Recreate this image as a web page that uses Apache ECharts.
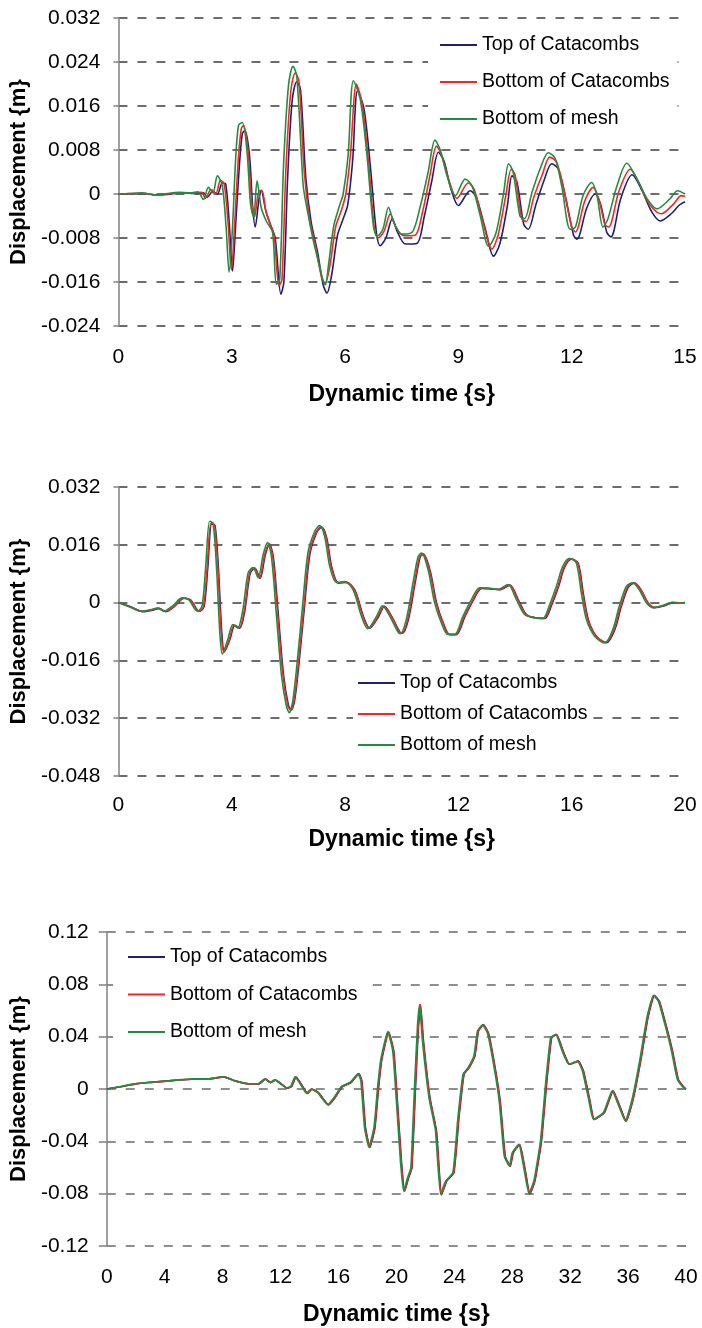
<!DOCTYPE html>
<html>
<head>
<meta charset="utf-8">
<script src="https://cdn.jsdelivr.net/npm/echarts@6/dist/echarts.min.js"></script>
<style>
html,body{margin:0;padding:0;background:#fff;}
#c{width:702px;height:1328px;}
</style>
</head>
<body>
<div id="c"></div>
<script>
const seriesNames = ['Top of Catacombs', 'Bottom of Catacombs', 'Bottom of mesh'];
const xTitle = 'Dynamic time {s}';
const yTitle = 'Displacement {m}';

// Chart 1 (0-15 s)
const c1Top = [[0,0],[0.3,0.0],[0.7,0.0001],[1.0,-0.0002],[1.4,0.0],[1.7,0.0002],[2.0,0.0001],[2.25,0.0002],[2.35,-0.0006],[2.5,0.0005],[2.62,0.0],[2.75,0.002],[2.84,0.0018],[2.93,-0.005],[3.02,-0.014],[3.1,-0.006],[3.2,0.005],[3.28,0.011],[3.35,0.0115],[3.47,0.007],[3.55,-0.002],[3.62,-0.006],[3.72,-0.001],[3.78,0.0007],[3.9,-0.003],[4.02,-0.0055],[4.15,-0.008],[4.3,-0.0182],[4.38,-0.016],[4.48,0.003],[4.6,0.017],[4.72,0.0204],[4.82,0.019],[4.96,0.003],[5.1,-0.005],[5.27,-0.0105],[5.42,-0.0165],[5.52,-0.018],[5.65,-0.0145],[5.8,-0.0075],[5.95,-0.0045],[6.07,-0.002],[6.2,0.006],[6.33,0.0188],[6.5,0.0155],[6.67,0.005],[6.83,-0.007],[6.93,-0.0094],[7.08,-0.008],[7.25,-0.0045],[7.38,-0.0068],[7.6,-0.0091],[7.9,-0.009],[8.1,-0.004],[8.3,0.0025],[8.47,0.0076],[8.62,0.006],[8.8,0.001],[9.0,-0.0021],[9.31,0.0006],[9.47,-0.0005],[9.7,-0.006],[9.93,-0.0113],[10.1,-0.009],[10.3,-0.002],[10.42,0.0033],[10.55,0.0022],[10.73,-0.0055],[10.85,-0.0064],[11.05,-0.002],[11.27,0.0025],[11.47,0.0055],[11.65,0.0045],[11.85,-0.001],[12.05,-0.0075],[12.14,-0.0082],[12.4,-0.0025],[12.62,0.0],[12.77,-0.002],[12.93,-0.007],[13.04,-0.0078],[13.3,-0.0008],[13.6,0.0035],[13.85,0.0008],[14.1,-0.003],[14.34,-0.0049],[14.65,-0.0035],[14.85,-0.002],[15.0,-0.0014]];
const c1Bot = [[0,0],[0.3,0.0001],[0.7,0.0001],[1.0,-0.0002],[1.4,0.0001],[1.7,0.0002],[2.0,0.0002],[2.2,0.0003],[2.3,-0.0008],[2.45,0.0008],[2.58,0.0001],[2.7,0.0025],[2.8,0.0018],[2.9,-0.005],[2.99,-0.0138],[3.08,-0.005],[3.17,0.006],[3.25,0.0118],[3.31,0.0125],[3.43,0.008],[3.52,-0.001],[3.6,-0.0042],[3.72,0.0005],[3.8,0.0006],[3.9,-0.003],[4.0,-0.0052],[4.12,-0.0075],[4.25,-0.0167],[4.33,-0.0155],[4.43,0.004],[4.56,0.0185],[4.68,0.022],[4.78,0.0205],[4.92,0.004],[5.06,-0.0045],[5.22,-0.0095],[5.38,-0.0152],[5.47,-0.0162],[5.6,-0.013],[5.75,-0.006],[5.9,-0.003],[6.02,0.0],[6.14,0.007],[6.3,0.020],[6.45,0.0165],[6.62,0.006],[6.78,-0.0065],[6.88,-0.008],[7.03,-0.0068],[7.2,-0.0036],[7.33,-0.0058],[7.55,-0.0076],[7.85,-0.0075],[8.06,-0.003],[8.25,0.0035],[8.42,0.0087],[8.56,0.007],[8.75,0.0025],[8.96,-0.0008],[9.26,0.002],[9.42,0.0008],[9.64,-0.0048],[9.89,-0.010],[10.05,-0.0075],[10.25,-0.0005],[10.4,0.0045],[10.5,0.0035],[10.68,-0.0045],[10.8,-0.005],[11.0,-0.0005],[11.22,0.0035],[11.42,0.0067],[11.6,0.0058],[11.8,0.0005],[12.0,-0.006],[12.1,-0.0069],[12.35,-0.0012],[12.57,0.0012],[12.72,-0.001],[12.88,-0.0055],[12.98,-0.006],[13.25,0.0005],[13.55,0.0045],[13.8,0.0018],[14.05,-0.0018],[14.37,-0.0036],[14.7,-0.0018],[14.9,-0.0003],[15.0,-0.0004]];
const c1Mesh = [[0,0],[0.3,0.0001],[0.6,0.0002],[1.0,-0.0002],[1.3,0.0001],[1.6,0.0003],[1.9,0.0002],[2.1,0.0004],[2.25,-0.001],[2.38,0.0012],[2.5,0.0002],[2.62,0.0033],[2.75,0.0015],[2.85,-0.006],[2.93,-0.0142],[3.02,-0.006],[3.1,0.006],[3.18,0.0125],[3.28,0.013],[3.4,0.008],[3.5,-0.002],[3.58,-0.0042],[3.67,0.0024],[3.78,-0.0025],[3.92,-0.005],[4.08,-0.007],[4.18,-0.0164],[4.27,-0.0155],[4.37,0.005],[4.5,0.0196],[4.62,0.0232],[4.72,0.0215],[4.86,0.005],[4.9,0.001],[5.03,-0.004],[5.17,-0.0088],[5.34,-0.0136],[5.43,-0.016],[5.48,-0.0165],[5.56,-0.013],[5.7,-0.0058],[5.85,-0.0022],[5.95,0.0],[6.08,0.007],[6.22,0.0206],[6.4,0.0173],[6.58,0.007],[6.75,-0.0058],[6.85,-0.0077],[7.0,-0.0064],[7.15,-0.0024],[7.28,-0.005],[7.5,-0.0073],[7.77,-0.007],[8.0,-0.002],[8.2,0.004],[8.38,0.0098],[8.52,0.008],[8.7,0.0033],[8.92,-0.0003],[9.18,0.0027],[9.36,0.0015],[9.58,-0.004],[9.8,-0.0095],[10.0,-0.007],[10.2,0.0003],[10.33,0.0055],[10.45,0.004],[10.63,-0.004],[10.75,-0.0045],[10.95,0.0003],[11.16,0.0045],[11.38,0.0075],[11.56,0.0065],[11.74,0.0013],[11.96,-0.0064],[12.1,-0.006],[12.3,-0.0003],[12.53,0.0021],[12.67,-0.0003],[12.83,-0.006],[12.96,-0.0045],[13.2,0.0015],[13.46,0.0056],[13.73,0.0027],[14.0,-0.0009],[14.26,-0.0027],[14.6,-0.0009],[14.8,0.0006],[15.0,0]];

// Chart 2 (0-20 s)
const c2Top = [[0,0],[0.47,-0.0013],[0.85,-0.0025],[1.2,-0.0021],[1.44,-0.0016],[1.67,-0.0025],[1.97,-0.0011],[2.32,0.0012],[2.55,0.0007],[2.85,-0.0024],[3.02,-0.0012],[3.15,0.0093],[3.29,0.0218],[3.41,0.0213],[3.53,0.0093],[3.65,-0.0086],[3.74,-0.0136],[3.93,-0.0103],[4.11,-0.0063],[4.28,-0.0071],[4.46,-0.0023],[4.65,0.0081],[4.82,0.0095],[5.0,0.0067],[5.18,0.0131],[5.33,0.0162],[5.47,0.0124],[5.65,-0.0041],[5.83,-0.0202],[6.0,-0.0284],[6.1,-0.0297],[6.23,-0.0265],[6.4,-0.0146],[6.58,0],[6.76,0.0135],[7.0,0.0194],[7.17,0.0209],[7.35,0.018],[7.53,0.0098],[7.77,0.0054],[8.05,0.0056],[8.35,0.0034],[8.65,-0.0039],[8.87,-0.0071],[9.18,-0.0039],[9.39,-0.001],[9.65,-0.0039],[9.93,-0.0081],[10.02,-0.0085],[10.23,-0.0048],[10.47,0.0053],[10.65,0.0126],[10.77,0.0134],[11.0,0.0089],[11.23,-0.0001],[11.47,-0.0057],[11.7,-0.0089],[11.94,-0.0088],[12.23,-0.0039],[12.53,0.0007],[12.82,0.0039],[13.12,0.0038],[13.47,0.0036],[13.82,0.0048],[14.12,0.0007],[14.41,-0.0034],[14.77,-0.0043],[15.05,-0.0044],[15.29,-0.0007],[15.53,0.0043],[15.75,0.0098],[15.99,0.012],[16.23,0.0109],[16.41,0.0025],[16.59,-0.0048],[16.88,-0.0094],[17.23,-0.0111],[17.52,-0.0075],[17.75,-0.0011],[18.0,0.0043],[18.22,0.0054],[18.45,0.0035],[18.7,-0.0001],[18.93,-0.0014],[19.28,-0.0009],[19.58,0],[19.87,-0.0002],[20,0]];
const c2Bot = [[0,0],[0.45,-0.0013],[0.83,-0.0024],[1.18,-0.002],[1.42,-0.0016],[1.65,-0.0024],[1.95,-0.0011],[2.3,0.0012],[2.53,0.0008],[2.83,-0.0024],[3.0,-0.0012],[3.13,0.0095],[3.27,0.022],[3.39,0.0215],[3.51,0.0095],[3.63,-0.0085],[3.72,-0.0138],[3.91,-0.0103],[4.09,-0.0062],[4.26,-0.007],[4.44,-0.0022],[4.63,0.0082],[4.8,0.0096],[4.98,0.0068],[5.16,0.0132],[5.31,0.0163],[5.45,0.0125],[5.63,-0.004],[5.81,-0.0203],[5.98,-0.0285],[6.08,-0.0298],[6.21,-0.0266],[6.38,-0.0147],[6.56,0],[6.74,0.0136],[6.98,0.0195],[7.15,0.021],[7.33,0.0181],[7.51,0.0099],[7.75,0.0055],[8.03,0.0057],[8.33,0.0035],[8.63,-0.0038],[8.85,-0.0071],[9.16,-0.0038],[9.37,-0.001],[9.63,-0.0038],[9.91,-0.0081],[10.0,-0.0085],[10.21,-0.0047],[10.45,0.0054],[10.63,0.0127],[10.75,0.0135],[10.98,0.009],[11.21,0],[11.45,-0.0056],[11.68,-0.0088],[11.92,-0.0087],[12.21,-0.0038],[12.51,0.0007],[12.8,0.004],[13.1,0.0039],[13.45,0.0036],[13.8,0.0049],[14.1,0.0008],[14.39,-0.0033],[14.75,-0.0042],[15.03,-0.0043],[15.27,-0.0006],[15.51,0.0044],[15.73,0.0099],[15.97,0.0121],[16.21,0.011],[16.39,0.0026],[16.57,-0.0047],[16.86,-0.0093],[17.21,-0.011],[17.5,-0.0074],[17.73,-0.001],[17.98,0.0044],[18.2,0.0055],[18.43,0.0036],[18.68,0],[18.91,-0.0013],[19.26,-0.0008],[19.56,0.0001],[19.85,-0.0001],[20,0]];
const c2Mesh = [[0,0],[0.4,-0.0012],[0.78,-0.0024],[1.13,-0.002],[1.37,-0.0015],[1.6,-0.0024],[1.9,-0.001],[2.25,0.0013],[2.48,0.0008],[2.78,-0.0024],[2.95,-0.001],[3.08,0.010],[3.22,0.0225],[3.34,0.022],[3.46,0.010],[3.58,-0.0084],[3.67,-0.0142],[3.86,-0.0102],[4.04,-0.0061],[4.21,-0.007],[4.39,-0.002],[4.58,0.0083],[4.75,0.0097],[4.93,0.0069],[5.11,0.0133],[5.26,0.0166],[5.4,0.0128],[5.58,-0.0038],[5.76,-0.0204],[5.93,-0.0287],[6.03,-0.0305],[6.16,-0.0269],[6.33,-0.0149],[6.51,0],[6.69,0.0138],[6.93,0.0197],[7.1,0.0213],[7.28,0.0183],[7.46,0.010],[7.7,0.0055],[7.98,0.0058],[8.28,0.0036],[8.58,-0.0038],[8.8,-0.0072],[9.11,-0.0038],[9.32,-0.0009],[9.58,-0.0038],[9.86,-0.008],[9.95,-0.0086],[10.16,-0.0047],[10.4,0.0055],[10.58,0.0128],[10.7,0.0137],[10.93,0.0091],[11.16,0],[11.4,-0.0056],[11.63,-0.0088],[11.87,-0.0088],[12.16,-0.0038],[12.46,0.0008],[12.75,0.0041],[13.05,0.004],[13.4,0.0037],[13.75,0.005],[14.05,0.0008],[14.34,-0.0033],[14.7,-0.0042],[14.98,-0.0044],[15.22,-0.0006],[15.46,0.0045],[15.68,0.010],[15.92,0.0122],[16.16,0.011],[16.34,0.0027],[16.52,-0.0047],[16.81,-0.0093],[17.16,-0.0112],[17.45,-0.0075],[17.68,-0.001],[17.93,0.0045],[18.15,0.0055],[18.38,0.0036],[18.63,0],[18.86,-0.0014],[19.21,-0.0008],[19.51,0],[19.82,-0.0002],[20,0]];

// Chart 3 (0-40 s)
const c3Top = [[0,0],[1.07,0.0019],[2.02,0.0039],[3.07,0.0051],[4.32,0.0062],[5.27,0.0071],[6.17,0.0077],[7.07,0.0077],[8.12,0.0093],[8.87,0.0062],[9.82,0.0039],[10.52,0.0039],[10.97,0.0077],[11.32,0.0049],[11.67,0.0069],[12.12,0.0034],[12.47,0.0007],[12.77,0.0019],[13.07,0.0092],[13.37,0.0049],[13.87,-0.0034],[14.17,-0.0001],[14.62,-0.0027],[14.97,-0.0078],[15.32,-0.0121],[15.77,-0.0065],[16.27,0.0017],[16.87,0.0049],[17.42,0.0116],[17.62,0.0059],[17.87,-0.0297],[18.17,-0.0446],[18.52,-0.0297],[18.77,0.0009],[19.0,0.0228],[19.47,0.0436],[19.82,0.0289],[20.07,-0.0093],[20.35,-0.0552],[20.57,-0.0783],[20.84,-0.068],[21.07,-0.0603],[21.32,0.0009],[21.52,0.0468],[21.67,0.0644],[21.87,0.0366],[22.32,-0.0067],[22.77,-0.0321],[23.12,-0.0809],[23.47,-0.0705],[23.97,-0.0641],[24.32,-0.022],[24.67,0.0111],[25.02,0.0162],[25.42,0.0251],[25.67,0.0443],[26.02,0.0491],[26.37,0.0422],[26.82,0.0162],[27.17,-0.0093],[27.52,-0.0514],[27.87,-0.059],[28.07,-0.0488],[28.52,-0.0424],[28.87,-0.0603],[29.22,-0.0803],[29.57,-0.0701],[30.02,-0.0399],[30.37,0.0035],[30.72,0.0391],[31.07,0.0417],[31.52,0.0289],[31.97,0.0188],[32.57,0.0213],[32.92,0.0137],[33.37,-0.0093],[33.67,-0.0233],[34.37,-0.0181],[34.97,-0.0014],[35.42,-0.0129],[35.87,-0.0246],[36.32,-0.0093],[36.87,0.0213],[37.37,0.0544],[37.82,0.0715],[38.17,0.0669],[38.62,0.0489],[39.07,0.0289],[39.47,0.0073],[39.87,0.0012],[40,0]];
const c3Bot = [[0,0],[1.05,0.0019],[2.0,0.0039],[3.05,0.0051],[4.3,0.0062],[5.25,0.0071],[6.15,0.0077],[7.05,0.0077],[8.1,0.0093],[8.85,0.0062],[9.8,0.0039],[10.5,0.0039],[10.95,0.0077],[11.3,0.0049],[11.65,0.0069],[12.1,0.0034],[12.45,0.0007],[12.75,0.0019],[13.05,0.0092],[13.35,0.0049],[13.85,-0.0034],[14.15,-0.0001],[14.6,-0.0027],[14.95,-0.0078],[15.3,-0.0121],[15.75,-0.0065],[16.25,0.0017],[16.85,0.0049],[17.4,0.0116],[17.6,0.0059],[17.85,-0.0297],[18.15,-0.0445],[18.5,-0.0297],[18.75,0.0009],[18.98,0.0228],[19.45,0.0437],[19.8,0.0289],[20.05,-0.0093],[20.33,-0.0552],[20.55,-0.0782],[20.82,-0.0679],[21.05,-0.0603],[21.3,0.0009],[21.5,0.0469],[21.65,0.0645],[21.85,0.0366],[22.3,-0.0067],[22.75,-0.0321],[23.1,-0.0808],[23.45,-0.0705],[23.95,-0.0641],[24.3,-0.022],[24.65,0.0111],[25.0,0.0162],[25.4,0.0251],[25.65,0.0443],[26.0,0.0492],[26.35,0.0422],[26.8,0.0162],[27.15,-0.0093],[27.5,-0.0514],[27.85,-0.059],[28.05,-0.0488],[28.5,-0.0424],[28.85,-0.0603],[29.2,-0.0802],[29.55,-0.0701],[30.0,-0.0399],[30.35,0.0035],[30.7,0.0391],[31.05,0.0417],[31.5,0.0289],[31.95,0.0188],[32.55,0.0213],[32.9,0.0137],[33.35,-0.0093],[33.65,-0.0233],[34.35,-0.0181],[34.95,-0.0014],[35.4,-0.0129],[35.85,-0.0246],[36.3,-0.0093],[36.85,0.0213],[37.35,0.0544],[37.8,0.0716],[38.15,0.0669],[38.6,0.0489],[39.05,0.0289],[39.45,0.0073],[39.85,0.0012],[40,0]];
const c3Mesh = [[0,0],[1.0,0.002],[1.93,0.004],[3.0,0.0052],[4.25,0.0063],[5.2,0.0072],[6.1,0.0078],[7.0,0.0078],[8.03,0.0094],[8.8,0.0063],[9.75,0.004],[10.45,0.004],[10.9,0.0078],[11.25,0.005],[11.6,0.007],[12.05,0.0035],[12.4,0.0008],[12.7,0.002],[13.0,0.0094],[13.3,0.005],[13.8,-0.0033],[14.1,0],[14.55,-0.0026],[14.9,-0.0077],[15.25,-0.012],[15.7,-0.0064],[16.2,0.0018],[16.8,0.005],[17.35,0.0117],[17.55,0.006],[17.8,-0.0296],[18.1,-0.0444],[18.45,-0.0296],[18.7,0.001],[18.93,0.0229],[19.4,0.0438],[19.75,0.029],[20.0,-0.0092],[20.28,-0.0551],[20.5,-0.078],[20.77,-0.0678],[21.0,-0.0602],[21.25,0.001],[21.45,0.047],[21.6,0.0643],[21.8,0.0367],[22.25,-0.0066],[22.7,-0.032],[23.05,-0.0805],[23.4,-0.0704],[23.9,-0.064],[24.25,-0.0219],[24.6,0.0112],[24.95,0.0163],[25.35,0.0252],[25.6,0.0444],[25.95,0.049],[26.3,0.0423],[26.75,0.0163],[27.1,-0.0092],[27.45,-0.0513],[27.8,-0.0589],[28.0,-0.0487],[28.45,-0.0423],[28.8,-0.0602],[29.15,-0.080],[29.5,-0.07],[29.95,-0.0398],[30.3,0.0036],[30.65,0.0392],[31.0,0.0418],[31.45,0.029],[31.9,0.0189],[32.5,0.0214],[32.85,0.0138],[33.3,-0.0092],[33.6,-0.0232],[34.3,-0.018],[34.9,-0.0013],[35.35,-0.0128],[35.8,-0.0245],[36.25,-0.0092],[36.8,0.0214],[37.3,0.0545],[37.75,0.0715],[38.1,0.067],[38.55,0.049],[39.0,0.029],[39.4,0.0074],[39.8,0.0013],[40,0]];

// axis ranges / ticks
const xRanges = [[0, 15, 3], [0, 20, 4], [0, 40, 4]];
const yRanges = [[-0.024, 0.032, 0.008], [-0.048, 0.032, 0.016], [-0.12, 0.12, 0.04]];
const yDecimals = [3, 3, 2];

const colors = ['#1f1f78', '#ff2222', '#1f8f3f'];
const FONT = 'Liberation Sans, Arial, sans-serif';

const grids = [
  {left: 118, right: 17, top: 18, height: 308},
  {left: 118, right: 17, top: 487, height: 289},
  {left: 105, right: 16, top: 932, height: 314}
];
const gridLineColors = ['#3c3c3c', '#3c3c3c', '#6a6a6a'];
const xLabelMargins = [21, 19, 21];
const xNameGaps = [57, 52, 57];
const yNameGaps = [86, 86, 73];
const yTickLens = [5, 5, 8];

const xAxes = xRanges.map((r, i) => ({
  type: 'value', gridIndex: i, min: r[0], max: r[1], interval: r[2],
  axisLine: {show: false, onZero: false},
  axisTick: {show: false},
  splitLine: {show: false},
  axisLabel: {fontSize: 21, color: '#000', fontFamily: FONT, margin: xLabelMargins[i]},
  name: xTitle, nameLocation: 'middle', nameGap: xNameGaps[i],
  nameTextStyle: {fontSize: 23, fontWeight: 'bold', color: '#000', fontFamily: FONT}
}));

const yAxes = yRanges.map((r, i) => ({
  type: 'value', gridIndex: i, min: r[0], max: r[1], interval: r[2],
  axisLine: {show: true, onZero: false, lineStyle: {color: '#808080', width: 1.5}},
  axisTick: {show: true, length: yTickLens[i], lineStyle: {color: '#808080', width: 1.5}},
  splitLine: {show: true, lineStyle: {color: gridLineColors[i], width: 1.5, type: [9, 10]}},
  axisLabel: {
    fontSize: 21, color: '#000', fontFamily: FONT, margin: 18,
    formatter: v => { const s = parseFloat(v.toFixed(yDecimals[i])); return s === 0 ? '0' : String(s); }
  },
  name: yTitle, nameLocation: 'middle', nameGap: yNameGaps[i],
  nameTextStyle: {fontSize: 22, fontWeight: 'bold', color: '#000', fontFamily: FONT}
}));
// inner half of the crossing ticks on the third chart
yAxes.push({
  type: 'value', gridIndex: 2, min: yRanges[2][0], max: yRanges[2][1], interval: yRanges[2][2],
  axisLine: {show: false, onZero: false},
  axisTick: {show: true, inside: true, length: 8, lineStyle: {color: '#808080', width: 1.5}},
  splitLine: {show: false}, axisLabel: {show: false}
});

const dataSets = [[c1Top, c1Bot, c1Mesh], [c2Top, c2Bot, c2Mesh], [c3Top, c3Bot, c3Mesh]];
const smoothing = [0.3, 0.3, 0.15];
const series = [];
dataSets.forEach((set, g) => {
  set.forEach((d, k) => {
    series.push({
      type: 'line', name: seriesNames[k], xAxisIndex: g, yAxisIndex: g,
      data: d, symbol: 'none', showSymbol: false, smooth: smoothing[g],
      lineStyle: {color: colors[k], width: 1.6}, itemStyle: {color: colors[k]},
      z: 3 + k, animation: false
    });
  });
});

const legendBase = {
  data: seriesNames, orient: 'vertical', selectedMode: false,
  icon: 'rect', itemWidth: 37, itemHeight: 2, backgroundColor: '#fff',
  textStyle: {fontSize: 19.5, color: '#000', fontFamily: FONT}
};
const legends = [
  Object.assign({}, legendBase, {left: 428, top: 25, itemGap: 17, padding: [10, 8, 10, 12]}),
  Object.assign({}, legendBase, {left: 353, top: 664, itemGap: 11, padding: [9, 2, 9, 5]}),
  Object.assign({}, legendBase, {left: 113, top: 939, itemGap: 17.5, padding: [8, 7, 10, 15]})
];

const chart = echarts.init(document.getElementById('c'), null, {renderer: 'canvas'});
chart.setOption({
  backgroundColor: '#fff',
  animation: false,
  grid: grids,
  xAxis: xAxes,
  yAxis: yAxes,
  legend: legends,
  series: series
});
</script>
</body>
</html>
